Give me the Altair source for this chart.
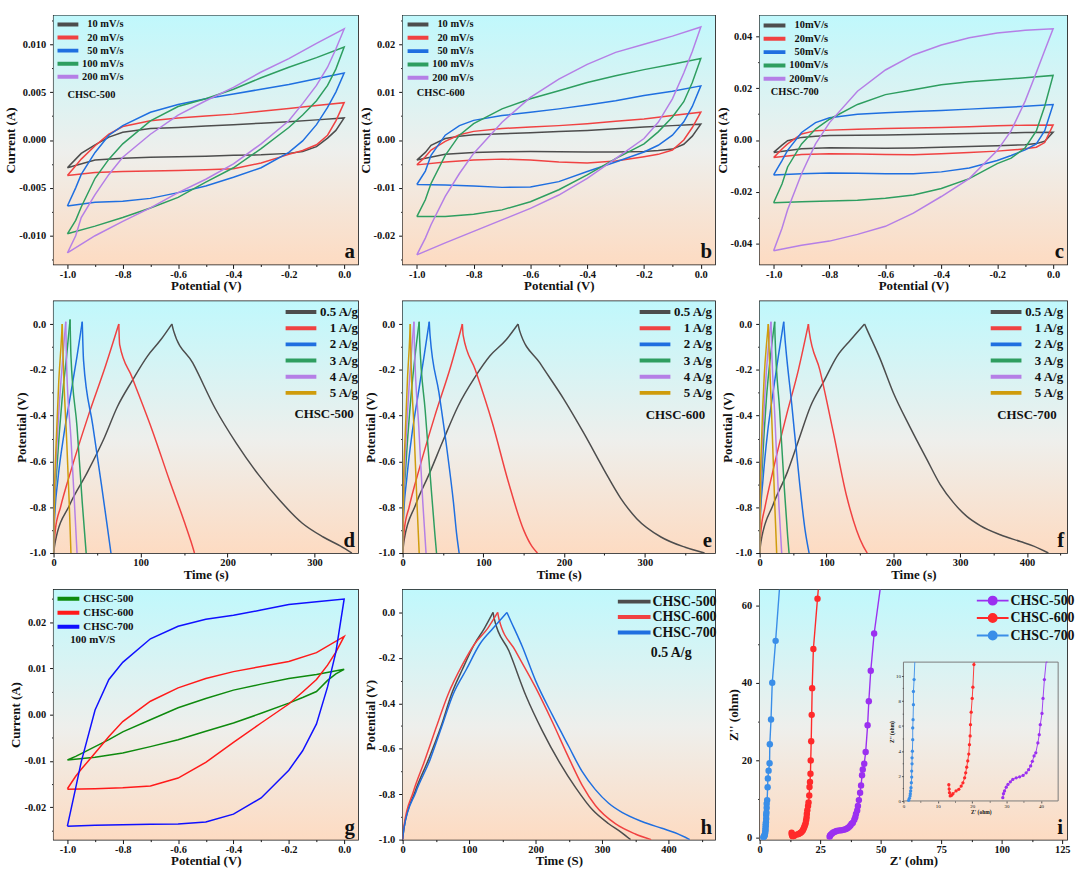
import json
import altair as alt
import pandas as pd

SERIF = "Liberation Serif"
INK = "#111111"

# ---------------- cyclic voltammetry (current in mA) ----------------
CV_FWD = [-1.0, -0.97, -0.95, -0.9, -0.85, -0.8, -0.7, -0.6, -0.5, -0.4, -0.3, -0.2, -0.1, 0.0]
CV_REV = [0.0, -0.03, -0.06, -0.1, -0.15, -0.2, -0.3, -0.4, -0.5, -0.6, -0.7, -0.8, -0.9, -1.0]

A_LABELS = ["10 mV/s", "20 mV/s", "50 mV/s", "100 mV/s", "200 mV/s"]
A_UP = [
    [-2.9, -2.0, -1.4, -0.5, 0.3, 0.8, 1.2, 1.3, 1.45, 1.6, 1.75, 1.9, 2.1, 2.3],
    [-3.7, -2.7, -2.0, -0.6, 0.6, 1.4, 2.0, 2.3, 2.5, 2.7, 3.0, 3.3, 3.6, 3.9],
    [-6.9, -5.0, -3.6, -1.3, 0.5, 1.5, 2.9, 3.7, 4.3, 4.8, 5.3, 5.8, 6.4, 7.0],
    [-9.8, -8.4, -7.0, -4.0, -2.0, -0.4, 2.0, 3.5, 4.3, 5.3, 6.5, 7.6, 8.6, 9.7],
    [-11.8, -10.0, -8.1, -5.7, -3.6, -1.8, 0.6, 2.6, 4.1, 5.5, 7.1, 8.5, 10.1, 11.6],
]
A_DOWN = [
    [2.3, 1.0, 0.2, -0.7, -1.2, -1.4, -1.55, -1.6, -1.7, -1.75, -1.8, -1.9, -2.1, -2.9],
    [3.9, 2.0, 0.5, -0.5, -1.1, -1.5, -2.4, -3.0, -3.1, -3.2, -3.25, -3.3, -3.4, -3.7],
    [7.0, 5.0, 3.4, 1.6, -0.1, -1.3, -2.9, -3.9, -4.8, -5.5, -6.1, -6.4, -6.5, -6.9],
    [9.7, 7.4, 5.7, 4.1, 2.6, 1.3, -0.9, -2.9, -4.4, -6.0, -7.1, -8.1, -9.0, -9.8],
    [11.6, 9.5, 7.6, 5.7, 3.8, 2.0, -0.4, -2.5, -4.1, -5.5, -7.1, -8.5, -10.0, -11.8],
]

B_LABELS = ["10 mV/s", "20 mV/s", "50 mV/s", "100 mV/s", "200 mV/s"]
B_UP = [
    [-4.2, -2.6, -1.1, 0.3, 0.8, 1.1, 1.3, 1.5, 1.75, 2.0, 2.35, 2.7, 3.0, 3.3],
    [-5.2, -3.5, -2.1, -0.3, 1.1, 1.8, 2.4, 2.7, 3.0, 3.4, 3.9, 4.4, 5.1, 5.8],
    [-9.3, -6.5, -3.2, 1.0, 3.0, 4.1, 5.1, 5.8, 6.5, 7.3, 8.2, 9.3, 10.2, 11.3],
    [-16.0, -12.5, -9.1, -3.2, 1.0, 3.4, 6.5, 8.6, 10.3, 12.0, 13.4, 14.7, 15.8, 17.0],
    [-24.0, -20.5, -17.7, -11.8, -7.0, -2.8, 3.7, 8.9, 12.7, 15.8, 18.3, 20.0, 21.7, 23.6],
]
B_DOWN = [
    [3.3, 0.8, -0.9, -1.9, -2.2, -2.4, -2.5, -2.5, -2.45, -2.4, -2.45, -2.6, -3.0, -4.2],
    [5.8, 2.6, 0.0, -2.1, -3.0, -3.5, -4.4, -4.8, -4.6, -4.2, -4.0, -4.2, -4.6, -5.2],
    [11.3, 7.0, 3.8, 1.0, -1.1, -2.5, -4.6, -6.6, -8.7, -9.8, -9.9, -9.6, -9.4, -9.3],
    [17.0, 12.0, 8.0, 4.8, 1.7, -0.8, -3.9, -7.3, -10.4, -12.9, -14.6, -15.5, -16.0, -16.0],
    [23.6, 18.5, 14.0, 8.6, 3.7, 0.3, -3.9, -8.0, -11.5, -14.3, -16.7, -19.1, -21.5, -24.0],
]

C_LABELS = ["10mV/s", "20mV/s", "50mV/s", "100mV/s", "200mV/s"]
C_UP = [
    [-4.8, -2.0, -0.3, 1.0, 1.4, 1.7, 1.8, 1.9, 2.1, 2.3, 2.5, 2.7, 2.85, 3.0],
    [-6.8, -3.5, -1.5, 2.3, 3.6, 3.8, 4.1, 4.4, 4.6, 4.8, 5.1, 5.5, 5.7, 5.8],
    [-13.5, -8.0, -4.0, 2.9, 6.7, 8.6, 9.9, 10.5, 11.0, 11.4, 11.9, 12.4, 13.0, 13.7],
    [-24.2, -17.0, -10.4, -1.5, 4.2, 8.0, 13.7, 17.5, 19.4, 21.3, 22.5, 23.2, 24.0, 24.9],
    [-42.7, -34.0, -26.9, -13.0, -1.5, 6.7, 18.8, 27.0, 32.8, 36.6, 39.4, 41.3, 42.3, 42.9],
]
C_DOWN = [
    [3.0, -0.5, -1.4, -1.8, -2.0, -2.2, -2.5, -2.8, -3.1, -3.2, -3.1, -3.0, -3.4, -4.8],
    [5.8, -1.0, -2.8, -3.4, -3.9, -4.3, -4.8, -5.3, -5.7, -5.6, -5.4, -5.3, -5.6, -6.8],
    [13.7, 3.6, -1.5, -3.8, -6.0, -7.9, -10.8, -12.3, -13.0, -13.0, -12.8, -12.7, -13.0, -13.5],
    [24.9, 13.0, 3.5, -3.0, -7.0, -9.1, -14.9, -18.7, -21.2, -22.5, -23.2, -23.5, -23.8, -24.2],
    [42.9, 34.5, 26.0, 15.0, 3.6, -4.1, -14.9, -21.8, -28.2, -33.3, -36.4, -39.0, -40.6, -42.7],
]

G_LABELS = ["CHSC-500", "CHSC-600", "CHSC-700"]
G_UP = [
    [-9.8, -9.0, -8.4, -6.9, -5.4, -3.7, -1.1, 1.5, 3.5, 5.3, 6.6, 7.8, 8.7, 9.8],
    [-16.0, -13.3, -11.8, -8.3, -4.7, -1.5, 2.9, 5.8, 7.8, 9.3, 10.4, 11.5, 13.4, 16.9],
    [-24.1, -15.8, -10.2, 1.0, 7.6, 11.3, 16.4, 19.1, 20.6, 21.5, 22.6, 23.8, 24.4, 25.0],
]
G_DOWN = [
    [9.8, 8.8, 7.4, 5.0, 3.7, 2.5, 0.3, -1.8, -3.6, -5.4, -6.9, -8.3, -9.2, -9.8],
    [16.9, 13.5, 10.7, 7.6, 4.9, 2.3, -1.8, -6.0, -10.3, -13.7, -15.4, -15.8, -16.0, -16.1],
    [25.0, 13.5, 6.0, -2.0, -7.8, -12.0, -18.0, -21.5, -23.2, -23.6, -23.7, -23.8, -23.9, -24.1],
]

# ---------------- galvanostatic charge/discharge ----------------
GCD_LABELS = ["0.5 A/g", "1 A/g", "2 A/g", "3 A/g", "4 A/g", "5 A/g"]

D05_T = [0, 2, 18.5, 38.5, 58, 73.5, 90, 108, 123, 136, 138, 160, 186, 210, 236, 260, 286, 310, 330, 343]
D05_V = [-1.0, -0.95, -0.79, -0.65, -0.5, -0.36, -0.25, -0.14, -0.07, 0.0, -0.03, -0.17, -0.37, -0.52, -0.66, -0.77, -0.87, -0.93, -0.97, -1.0]
E05_T = [0, 2, 16, 33.5, 50, 68.5, 90, 108, 128, 143, 145, 170, 200, 225, 250, 270, 290, 320, 350, 374]
E05_V = [-1.0, -0.94, -0.79, -0.65, -0.51, -0.36, -0.23, -0.14, -0.07, 0.0, -0.03, -0.17, -0.33, -0.48, -0.64, -0.76, -0.85, -0.93, -0.975, -1.0]
F05_T = [0, 2, 20, 41, 58, 76, 96, 116, 136, 157, 160, 180, 200, 225, 250, 270, 290, 310, 330, 360, 390, 410, 432]
F05_V = [-1.0, -0.95, -0.79, -0.65, -0.51, -0.36, -0.25, -0.14, -0.07, 0.0, -0.02, -0.15, -0.3, -0.45, -0.59, -0.7, -0.78, -0.84, -0.88, -0.92, -0.95, -0.97, -1.0]

D_T = [
    D05_T,
    [0, 2, 8, 20, 40, 60, 75, 76, 90, 114, 133, 150, 158, 162],
    [0, 1, 5, 12, 20, 27, 33, 34.5, 45, 55, 62, 66],
    [0, 1, 4, 10, 15, 19, 20, 27, 33, 37.5],
    [0, 1, 3, 7, 11, 14, 15, 20, 24, 27],
    [0, 1, 3, 6, 8.5, 10, 11, 15, 18, 20],
]
D_V = [
    D05_V,
    [-1.0, -0.9, -0.8, -0.64, -0.4, -0.18, 0.0, -0.09, -0.23, -0.47, -0.68, -0.86, -0.95, -1.0],
    [-1.0, -0.86, -0.68, -0.48, -0.3, -0.14, 0.01, -0.16, -0.44, -0.7, -0.89, -1.0],
    [-1.0, -0.82, -0.62, -0.32, -0.14, 0.02, -0.14, -0.45, -0.78, -1.0],
    [-1.0, -0.8, -0.6, -0.33, -0.13, 0.01, -0.18, -0.5, -0.78, -1.0],
    [-1.0, -0.75, -0.52, -0.25, -0.1, 0.0, -0.15, -0.5, -0.78, -1.0],
]
E_T = [
    E05_T,
    [0, 2, 8, 20, 40, 60, 74, 75, 90, 111, 131, 150, 160, 167],
    [0, 1, 5, 12, 20, 27, 33, 34, 45, 55, 63, 67, 70],
    [0, 1, 4, 10, 16, 20.5, 21, 28, 35, 40, 42],
    [0, 1, 3, 7, 11, 14, 14.5, 20, 25, 29],
    [0, 1, 3, 6, 8.5, 9.5, 10, 14, 18, 20.5],
]
E_V = [
    E05_V,
    [-1.0, -0.9, -0.8, -0.64, -0.4, -0.18, 0.0, -0.05, -0.2, -0.43, -0.69, -0.9, -0.97, -1.0],
    [-1.0, -0.85, -0.68, -0.47, -0.29, -0.13, 0.01, -0.05, -0.3, -0.55, -0.78, -0.92, -1.0],
    [-1.0, -0.82, -0.62, -0.33, -0.12, 0.01, -0.06, -0.38, -0.7, -0.92, -1.0],
    [-1.0, -0.8, -0.6, -0.33, -0.12, 0.01, -0.08, -0.45, -0.78, -1.0],
    [-1.0, -0.72, -0.5, -0.24, -0.08, 0.0, -0.1, -0.45, -0.8, -1.0],
]
F_T = [
    F05_T,
    [0, 2, 8, 20, 40, 58, 73, 74, 90, 110, 130, 145, 155, 161],
    [0, 1, 5, 12, 20, 28, 36, 37, 48, 60, 68, 74],
    [0, 1, 4, 10, 17, 22.5, 23, 30, 37, 42, 44],
    [0, 1, 3, 8, 13, 17, 17.5, 23, 29, 33],
    [0, 1, 3, 7, 10.5, 13, 13.5, 18, 22.5, 25.5],
]
F_V = [
    F05_V,
    [-1.0, -0.9, -0.8, -0.64, -0.4, -0.2, 0.0, -0.03, -0.2, -0.47, -0.75, -0.9, -0.97, -1.0],
    [-1.0, -0.85, -0.68, -0.47, -0.3, -0.14, 0.01, -0.03, -0.35, -0.7, -0.9, -1.0],
    [-1.0, -0.82, -0.62, -0.33, -0.12, 0.01, -0.05, -0.38, -0.72, -0.93, -1.0],
    [-1.0, -0.8, -0.6, -0.3, -0.1, 0.01, -0.05, -0.42, -0.8, -1.0],
    [-1.0, -0.72, -0.5, -0.22, -0.08, 0.0, -0.05, -0.4, -0.78, -1.0],
]
H_LABELS = ["CHSC-500", "CHSC-600", "CHSC-700"]

# ---------------- impedance (Nyquist) ----------------
I_LABELS = ["CHSC-500", "CHSC-600", "CHSC-700"]
I_P_ZR = [28.9, 29.1, 29.4, 29.9, 30.4, 31.1, 31.8, 32.8, 33.8, 34.8, 35.7, 36.4, 37.0, 37.5, 38.0, 38.5, 39.1,
          39.5, 39.8, 40.3, 40.6, 41.0, 41.5, 41.9, 42.3, 42.6, 43.2, 43.8, 44.6, 45.1, 45.9, 47.3, 50.2]
I_P_ZI = [0.26, 0.58, 0.8, 1.1, 1.32, 1.53, 1.72, 1.85, 1.93, 2.04, 2.25, 2.5, 2.8, 3.17, 3.6, 3.85, 4.64,
          5.3, 6.1, 7.0, 8.2, 9.7, 11.6, 13.5, 16.1, 17.6, 19.1, 22.1, 29.0, 35.2, 43.1, 52.7, 66.0]
I_R_ZR = [13.2, 13.3, 13.4, 13.6, 14.0, 14.4, 15.3, 16.1, 16.8, 17.3, 17.8, 18.1, 18.4, 18.7, 19.0, 19.2,
          19.4, 19.5, 19.7, 20.0, 20.2, 20.5, 20.6, 20.8, 21.0, 21.1, 21.3, 21.5, 21.7, 22.2, 23.9, 24.5]
I_R_ZI = [1.3, 0.95, 0.66, 0.4, 0.45, 0.58, 0.8, 0.93, 1.19, 1.45, 1.85, 2.25, 2.7, 3.2, 3.75, 4.5,
          5.2, 6.1, 7.1, 8.2, 9.1, 10.9, 13.1, 14.4, 16.5, 19.9, 24.9, 31.7, 38.6, 48.7, 61.7, 66.0]
I_B_ZR = [1.5, 1.73, 1.93, 2.0, 2.1, 2.2, 2.3, 2.4, 2.4, 2.5, 2.5, 2.6, 2.7, 2.7, 2.8, 2.9, 2.9, 3.1,
          3.3, 3.4, 3.7, 4.1, 4.2, 4.7, 5.2, 6.6, 8.4]
I_B_ZI = [0.05, 0.21, 0.4, 0.58, 0.8, 1.06, 1.46, 1.91, 2.39, 2.97, 3.45, 3.98, 4.9, 5.84, 6.5, 7.7, 8.75, 9.7,
          13.0, 15.3, 17.3, 19.2, 24.1, 30.5, 40.0, 50.8, 66.0]

# ---------------- styling ----------------
SCAN_COLORS = ["#4d4d4d", "#f04242", "#1f6fe0", "#2e9e60", "#b57fe6"]
RATE_COLORS = SCAN_COLORS + ["#cf9c0c"]
G_COLORS = ["#0e8a0e", "#ff1a1a", "#1010ff"]
H_COLORS = ["#4d4d4d", "#f04242", "#1f6fe0"]
I_COLORS = ["#9b30f0", "#ff2a2a", "#3a8ee8"]

GRADIENT = alt.LinearGradient(
    gradient="linear", x1=0, y1=0, x2=0, y2=1,
    stops=[alt.GradientStop(color="#c0f8fc", offset=0),
           alt.GradientStop(color="#eeefec", offset=0.55),
           alt.GradientStop(color="#fddbc2", offset=1)])

CV_X_MAJOR = [-1.0, -0.8, -0.6, -0.4, -0.2, 0.0]
CV_X_MINOR = [-0.9, -0.7, -0.5, -0.3, -0.1]
GCD_Y_MAJOR = [-1.0, -0.8, -0.6, -0.4, -0.2, 0.0]
GCD_Y_MINOR = [-0.9, -0.7, -0.5, -0.3, -0.1]

KEY_UNIT = 4.0  # sqrt of the legend symbol size; keeps legend rows as tall as their labels
KEY_PX = KEY_UNIT / 2.0  # pixels per path unit of a legend symbol


def tick_axis(title, majors, minors, fmt, major_len=4, minor_len=2, **kw):
    arr = json.dumps(majors)
    return alt.Axis(
        title=title, values=sorted(majors + minors),
        labelExpr=f"indexof({arr}, datum.value) >= 0 ? replace(format(datum.value, '{fmt}'), '\u2212', '-') : ''",
        tickSize={"condition": {"test": f"indexof({arr}, datum.value) < 0", "value": minor_len}, "value": major_len},
        **kw)


def background():
    return alt.Chart(pd.DataFrame({"k": [0]})).mark_rect(color=GRADIENT, strokeWidth=0).encode(
        x=alt.value(0), x2=alt.value("width"), y=alt.value(0), y2=alt.value("height"))


def bar_key(length, thick, pen):
    """A thick horizontal bar drawn as a few thin parallel strokes."""
    end = 2.0 * length / KEY_UNIT - 1.0
    half = (thick - pen) / 2.0
    offsets = [-half, -half / 3.0, half / 3.0, half]
    return "".join(f"M-1,{o / KEY_PX:.3f}L{end:.3f},{o / KEY_PX:.3f}" for o in offsets)


def dot_key(length, dot_px):
    """A horizontal bar with a dot in its middle."""
    end = 2.0 * length / KEY_UNIT - 1.0
    c = (end - 1.0) / 2.0
    r = dot_px / KEY_PX
    return (f"M-1,0L{end:.3f},0M{c + r:.3f},0A{r:.3f},{r:.3f},0,1,1,{c - r:.3f},0"
            f"A{r:.3f},{r:.3f},0,1,1,{c + r:.3f},0Z")


def line_legend(x, y, size, length, row_pad, gap, label_w=0.0, pen=1.2, dot_px=0.0):
    entry = size
    start = entry / 2.0 - KEY_UNIT / 2.0
    key = dot_key(length, dot_px) if dot_px else bar_key(length, 4.0, pen)
    if label_w:
        kw = dict(labelAlign="right", labelOffset=start + length + gap + label_w - entry)
    else:
        kw = dict(labelOffset=start + length + gap - entry)
    return alt.Legend(title=None, orient="none", legendX=x - start, legendY=y - entry / 2.0, padding=0,
                      symbolType=key, symbolSize=KEY_UNIT * KEY_UNIT, symbolStrokeWidth=pen,
                      labelFontSize=size, rowPadding=row_pad, **kw)


def cv_table(labels, ups, downs):
    rows = []
    for name, up, down in zip(labels, ups, downs):
        for k, (p, c) in enumerate(list(zip(CV_FWD, up)) + list(zip(CV_REV, down))):
            rows.append({"series": name, "leg": "loop", "px": p, "py": c / 1000.0, "idx": k})
    return pd.DataFrame(rows)


def gcd_table(labels, times, volts):
    """Charge and discharge branches are kept as separate strokes so the apex stays sharp."""
    rows = []
    for name, ts, vs in zip(labels, times, volts):
        apex = vs.index(max(vs))
        for k, (t, v) in enumerate(zip(ts, vs)):
            if k <= apex:
                rows.append({"series": name, "leg": "charge", "px": t, "py": v, "idx": k})
            if k >= apex:
                rows.append({"series": name, "leg": "discharge", "px": t, "py": v, "idx": k})
    return pd.DataFrame(rows)


def panel(df, xdom, ydom, xax, yax, labels, colors, legend, notes, letter, w, h, curve="linear"):
    X = alt.X("px:Q", scale=alt.Scale(domain=xdom, nice=False, zero=False), axis=xax)
    Y = alt.Y("py:Q", scale=alt.Scale(domain=ydom, nice=False, zero=False), axis=yax)
    lines = alt.Chart(df).mark_line(strokeWidth=1.5, clip=True, interpolate=curve).encode(
        x=X, y=Y,
        color=alt.Color("series:N", scale=alt.Scale(domain=labels, range=colors), legend=legend),
        detail="leg:N",
        order=alt.Order("idx:Q"))
    layers = [background(), lines]
    for nx, ny, txt, size, align in notes:
        layers.append(alt.Chart(pd.DataFrame({"px": [nx], "py": [ny], "t": [txt]})).mark_text(
            font=SERIF, fontWeight="bold", fontSize=size, align=align, baseline="middle", color=INK
        ).encode(x=X, y=Y, text="t:N"))
    layers.append(alt.Chart(pd.DataFrame({"px": [xdom[1]], "py": [ydom[0]], "t": [letter]})).mark_text(
        font=SERIF, fontWeight="bold", fontSize=21, align="right", baseline="bottom", dx=-3, dy=-2, color=INK
    ).encode(x=X, y=Y, text="t:N"))
    return alt.layer(*layers).properties(width=w, height=h)


def cv_axes(ymaj, ymin, yfmt):
    xa = tick_axis("Potential (V)", CV_X_MAJOR, CV_X_MINOR, ".1f")
    ya = tick_axis("Current (A)", ymaj, ymin, yfmt)
    return xa, ya


W = [307, 315, 310]
H = [251, 254, 252]

# row 1: CV at different scan rates
xa, ya = cv_axes([-0.01, -0.005, 0.0, 0.005, 0.01], [-0.0125, -0.0075, -0.0025, 0.0025, 0.0075, 0.0125], ".3f")
pa = panel(cv_table(A_LABELS, A_UP, A_DOWN), [-1.05, 0.05], [-0.013, 0.013], xa, ya, A_LABELS, SCAN_COLORS,
           line_legend(4, 9, 10.5, 21, 2.2, 4, label_w=41.5), [(-1.0, 0.0047, "CHSC-500", 10.5, "left")],
           "a", W[0], H[0])
xa, ya = cv_axes([-0.02, -0.01, 0.0, 0.01, 0.02], [-0.025, -0.015, -0.005, 0.005, 0.015, 0.025], ".2f")
pb = panel(cv_table(B_LABELS, B_UP, B_DOWN), [-1.05, 0.05], [-0.026, 0.026], xa, ya, B_LABELS, SCAN_COLORS,
           line_legend(5, 9, 10.5, 21, 2.45, 4, label_w=41.5), [(-1.0, 0.0098, "CHSC-600", 10.5, "left")],
           "b", W[1], H[0])
xa, ya = cv_axes([-0.04, -0.02, 0.0, 0.02, 0.04], [-0.03, -0.01, 0.01, 0.03], ".2f")
pc = panel(cv_table(C_LABELS, C_UP, C_DOWN), [-1.05, 0.05], [-0.048, 0.048], xa, ya, C_LABELS, SCAN_COLORS,
           line_legend(4, 10, 10.5, 22, 2.45, 4, label_w=39), [(-1.01, 0.0184, "CHSC-700", 10.5, "left")],
           "c", W[2], H[0])

# row 2: GCD at different current densities
ya = tick_axis("Potential (V)", GCD_Y_MAJOR, GCD_Y_MINOR, ".1f")
pd_ = panel(gcd_table(GCD_LABELS, D_T, D_V), [0, 350], [-1.0, 0.1],
            tick_axis("Time (s)", [0, 100, 200, 300], [50, 150, 250], "d"), ya, GCD_LABELS, RATE_COLORS,
            line_legend(W[0] - 73, 11, 13, 31, 2.3, 2, label_w=40), [(311, -0.395, "CHSC-500", 13, "center")],
            "d", W[0], H[1], curve="monotone")
pe = panel(gcd_table(GCD_LABELS, E_T, E_V), [0, 387], [-1.0, 0.1],
           tick_axis("Time (s)", [0, 100, 200, 300], [50, 150, 250, 350], "d"), ya, GCD_LABELS, RATE_COLORS,
           line_legend(W[1] - 76, 11, 13, 31, 2.3, 2, label_w=40), [(338, -0.396, "CHSC-600", 13, "center")],
           "e", W[1], H[1], curve="monotone")
pf = panel(gcd_table(GCD_LABELS, F_T, F_V), [0, 460], [-1.0, 0.1],
           tick_axis("Time (s)", [0, 100, 200, 300, 400], [50, 150, 250, 350, 450], "d"), ya, GCD_LABELS,
           RATE_COLORS, line_legend(W[2] - 77, 11, 13, 31, 2.3, 2, label_w=40),
           [(400, -0.396, "CHSC-700", 13, "center")], "f", W[2], H[1], curve="monotone")

# row 3: comparison of the three carbons
xa, ya = cv_axes([-0.02, -0.01, 0.0, 0.01, 0.02], [-0.025, -0.015, -0.005, 0.005, 0.015, 0.025], ".2f")
pg = panel(cv_table(G_LABELS, G_UP, G_DOWN), [-1.05, 0.05], [-0.027, 0.027], xa, ya, G_LABELS, G_COLORS,
           line_legend(4, 9, 11, 22, 2.2, 4), [(-0.99, 0.0161, "100 mV/S", 11, "left")], "g", W[0], H[2])
ph = panel(gcd_table(H_LABELS, [D05_T, E05_T, F05_T], [D05_V, E05_V, F05_V]), [0, 470], [-1.0, 0.1],
           tick_axis("Time (S)", [0, 100, 200, 300, 400], [50, 150, 250, 350, 450], "d"),
           tick_axis("Potential (V)", GCD_Y_MAJOR, GCD_Y_MINOR, ".1f"), H_LABELS, H_COLORS,
           line_legend(W[1] - 98, 12, 14, 33, 1.6, 2), [(404, -0.178, "0.5 A/g", 14, "center")], "h", W[1], H[2],
           curve="monotone")


def eis_table():
    rows = []
    for name, zr, zi in zip(I_LABELS, [I_P_ZR, I_R_ZR, I_B_ZR], [I_P_ZI, I_R_ZI, I_B_ZI]):
        for k, (a, b) in enumerate(zip(zr, zi)):
            rows.append({"sample": name, "zr": a, "zi": b, "idx": k})
    return pd.DataFrame(rows)


INSET_ZR = [0, 45]
INSET_ZI = [0, 11.1]


def eis_panel(w, h):
    df = eis_table()
    cs = alt.Scale(domain=I_LABELS, range=I_COLORS)
    leg = line_legend(w - 91, 11, 14, 32, 1.6, 2, pen=2, dot_px=4)
    X = alt.X("zr:Q", scale=alt.Scale(domain=[0, 127], nice=False, zero=False),
              axis=tick_axis("Z' (ohm)", [0, 25, 50, 75, 100, 125], [12.5, 37.5, 62.5, 87.5, 112.5], "d"))
    Y = alt.Y("zi:Q", scale=alt.Scale(domain=[-0.5, 64], nice=False, zero=False),
              axis=tick_axis("Z'' (ohm)", [0, 20, 40, 60], [10, 30, 50], "d"))
    line = alt.Chart(df).mark_line(strokeWidth=1.4, clip=True).encode(
        x=X, y=Y, stroke=alt.Stroke("sample:N", scale=cs, legend=leg), order=alt.Order("idx:Q"))
    pts = alt.Chart(df).mark_point(filled=True, size=42, opacity=1, clip=True).encode(
        x=X, y=Y, fill=alt.Fill("sample:N", scale=cs, legend=leg))
    letter = alt.Chart(pd.DataFrame({"zr": [127], "zi": [-0.5], "t": ["i"]})).mark_text(
        font=SERIF, fontWeight="bold", fontSize=21, align="right", baseline="bottom", dx=-4, dy=-2, color=INK
    ).encode(x=X, y=Y, text="t:N")
    main = alt.layer(background(), line, pts, letter)

    # magnified view of the high-frequency region
    small = dict(labelFontSize=5, titleFontSize=5.5, labelPadding=1, titlePadding=1, tickColor="#555",
                 labelFontWeight="normal", titleFontWeight="bold", zindex=2)
    IX = alt.X("zr:Q", scale=alt.Scale(domain=INSET_ZR, range=[145, 301], nice=False, zero=False),
               axis=tick_axis("Z' (ohm)", [0, 10, 20, 30, 40], [5, 15, 25, 35], "d", 2, 1.2,
                              orient="bottom", offset=213 - h, **small))
    IY = alt.Y("zi:Q", scale=alt.Scale(domain=INSET_ZI, range=[213, 73], nice=False, zero=False, clamp=True),
               axis=tick_axis("Z'' (ohm)", [0, 2, 4, 6, 8, 10], [1, 3, 5, 7, 9], "d", 2, 1.2,
                              orient="left", offset=-145, **small))
    frame = alt.Chart(pd.DataFrame({"zr": [INSET_ZR[0]], "zr2": [INSET_ZR[1]], "zi": [INSET_ZI[0]],
                                    "zi2": [INSET_ZI[1]]})).mark_rect(
        fillOpacity=0, stroke="#7a7a7a", strokeWidth=1).encode(x=IX, x2="zr2:Q", y=IY, y2="zi2:Q")
    iline = alt.Chart(df).transform_filter("datum.zi <= 13.5").mark_line(strokeWidth=0.9).encode(
        x=IX, y=IY, stroke=alt.Stroke("sample:N", scale=cs, legend=None), order=alt.Order("idx:Q"))
    ipts = alt.Chart(df).transform_filter("datum.zi <= 11.1").mark_point(filled=True, size=11, opacity=1).encode(
        x=IX, y=IY, fill=alt.Fill("sample:N", scale=cs, legend=None))
    inset = alt.layer(frame, iline, ipts)
    return alt.layer(main, inset).resolve_scale(x="independent", y="independent").properties(width=w, height=h)


pi = eis_panel(W[2], H[2])

row1 = alt.hconcat(pa, pb, pc, spacing=45, bounds="flush").resolve_scale(color="independent")
row2 = alt.hconcat(pd_, pe, pf, spacing=45, bounds="flush").resolve_scale(color="independent")
row3 = alt.hconcat(pg, ph, pi, spacing=45, bounds="flush").resolve_scale(
    color="independent", stroke="independent", fill="independent")

chart = alt.vconcat(row1, row2, row3, spacing=6).resolve_scale(
    color="independent", stroke="independent", fill="independent"
).properties(
    padding={"left": 4, "top": 11, "right": 0, "bottom": 0}, background="white"
).configure_view(
    stroke=INK, strokeWidth=1.4
).configure_axis(
    labelFont=SERIF, labelFontWeight="bold", labelFontSize=10.5, labelColor=INK,
    titleFont=SERIF, titleFontWeight="bold", titleFontSize=13, titleColor=INK,
    tickColor=INK, tickWidth=1, domain=False, grid=False, labelFlush=False, labelOverlap=False
).configure_axisX(
    labelPadding=1, titlePadding=0
).configure_axisY(
    labelPadding=4, titlePadding=1
).configure_legend(
    labelFont=SERIF, labelFontWeight="bold", labelColor=INK, symbolOpacity=1
)

chart.save("out.html", embed_options={"renderer": "svg", "actions": False})
